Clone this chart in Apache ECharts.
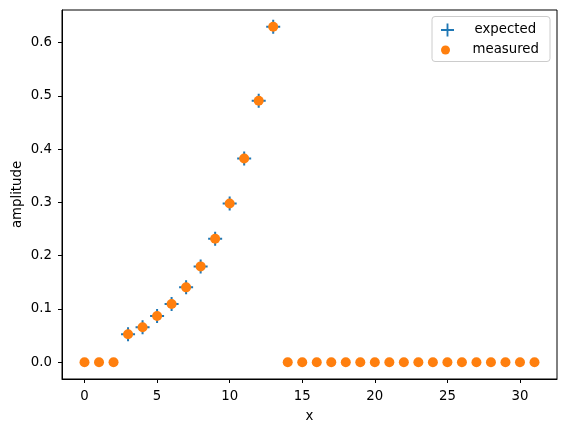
<!DOCTYPE html>
<html>
<head>
<meta charset="utf-8">
<script src="https://cdn.jsdelivr.net/npm/echarts@6/dist/echarts.min.js"></script>
<style>html,body{margin:0;padding:0;background:#fff}#c{width:567px;height:432px}</style>
</head>
<body>
<div id="c"></div>
<script>
const xValues = [0,1,2,3,4,5,6,7,8,9,10,11,12,13,14,15,16,17,18,19,20,21,22,23,24,25,26,27,28,29,30,31];
const measured = [0,0,0,0.0525,0.0656,0.0868,0.1093,0.1406,0.180,0.2318,0.298,0.3825,0.491,0.630,0,0,0,0,0,0,0,0,0,0,0,0,0,0,0,0,0,0];
const expectedX = [3,4,5,6,7,8,9,10,11,12,13];
const expectedY = [0.0525,0.0656,0.0868,0.1093,0.1406,0.180,0.2318,0.298,0.3825,0.491,0.630];
const xTicks = [0,5,10,15,20,25,30];
const yTicks = [0.0,0.1,0.2,0.3,0.4,0.5,0.6];
const seriesNames = ['expected','measured'];

const FONT = 'DejaVu Sans';
const FS = 13.3;
const plusPath = 'path://M6,0h2v6h6v2h-6v6h-2v-6h-6v-2h6z';

const chart = echarts.init(document.getElementById('c'), null, {renderer:'canvas'});
chart.setOption({
  animation: false,
  backgroundColor: '#fff',
  textStyle: {fontFamily: FONT},
  grid: {left: 62, right: 10, top: 10, bottom: 53, show: true, borderColor: '#000', borderWidth: 1, containLabel: false},
  xAxis: {
    type: 'value', min: -1.55, max: 32.55,
    name: 'x', nameLocation: 'middle', nameGap: 31, nameMoveOverlap: false,
    nameTextStyle: {fontFamily: FONT, fontSize: FS, color: '#000'},
    axisLine: {show: true, onZero: false, lineStyle: {color: '#000', width: 1}},
    axisTick: {show: true, length: 4, lineStyle: {color: '#000', width: 1}, customValues: xTicks},
    axisLabel: {fontFamily: FONT, fontSize: FS, color: '#000', margin: 11, customValues: xTicks},
    splitLine: {show: false}
  },
  yAxis: {
    type: 'value', min: -0.0315, max: 0.6615,
    name: 'amplitude', nameLocation: 'middle', nameGap: 38, nameMoveOverlap: false,
    nameTextStyle: {fontFamily: FONT, fontSize: FS, color: '#000'},
    axisLine: {show: true, onZero: false, lineStyle: {color: '#000', width: 1}},
    axisTick: {show: true, length: 4, lineStyle: {color: '#000', width: 1}, customValues: yTicks},
    axisLabel: {fontFamily: FONT, fontSize: FS, color: '#000', margin: 10, customValues: yTicks,
      formatter: v => v.toFixed(1)},
    splitLine: {show: false}
  },
  legend: [
    {data: [{name: seriesNames[0], icon: plusPath}], left: 441, top: 23, orient: 'vertical', padding: 0,
     itemWidth: 20, itemHeight: 13, selectedMode: false, z: 10,
     textStyle: {fontFamily: FONT, fontSize: FS, color: '#000', lineHeight: 14, padding: [0,0,0,12]}},
    {data: [{name: seriesNames[1], icon: 'circle'}], left: 441, top: 43, orient: 'vertical', padding: 0,
     itemWidth: 20, itemHeight: 9, selectedMode: false, z: 10,
     textStyle: {fontFamily: FONT, fontSize: FS, color: '#000', lineHeight: 14, padding: [0,0,0,12]}}
  ],
  graphic: [{
    type: 'rect', shape: {x: 432, y: 16.5, width: 118, height: 45, r: 3},
    style: {fill: 'rgba(255,255,255,0.8)', stroke: '#cccccc', lineWidth: 1}, z: 5
  }],
  series: [
    {name: seriesNames[0], type: 'scatter', symbol: plusPath, symbolSize: 14,
     itemStyle: {color: '#1f77b4', opacity: 1},
     data: expectedX.map((x, i) => [x, expectedY[i]]), z: 2},
    {name: seriesNames[1], type: 'scatter', symbol: 'circle', symbolSize: 10,
     itemStyle: {color: '#ff7f0e', opacity: 1},
     data: xValues.map((x, i) => [x, measured[i]]), z: 3}
  ]
});
</script>
</body>
</html>
